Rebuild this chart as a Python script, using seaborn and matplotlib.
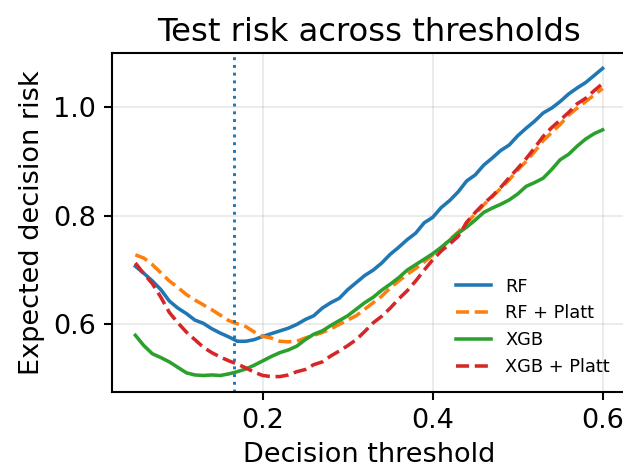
import numpy as np
import pandas as pd
import matplotlib
matplotlib.use("Agg")
import matplotlib.pyplot as plt
import seaborn as sns

# thresholds 0.05 .. 0.60, step 0.01
thresholds = [round(0.05 + 0.01 * i, 2) for i in range(56)]

rf = [0.707, 0.694, 0.680, 0.664, 0.643, 0.630, 0.620, 0.608, 0.602, 0.592,
      0.584, 0.577, 0.569, 0.569, 0.572, 0.578, 0.583, 0.588, 0.593, 0.600,
      0.609, 0.616, 0.630, 0.640, 0.648, 0.664, 0.677, 0.690, 0.700, 0.713,
      0.729, 0.742, 0.756, 0.768, 0.787, 0.797, 0.815, 0.828, 0.844, 0.864,
      0.875, 0.893, 0.906, 0.920, 0.930, 0.947, 0.961, 0.974, 0.989, 0.998,
      1.010, 1.024, 1.035, 1.045, 1.058, 1.071]

rf_platt = [0.728, 0.722, 0.710, 0.695, 0.680, 0.668, 0.655, 0.645, 0.636, 0.627,
            0.617, 0.607, 0.601, 0.596, 0.586, 0.578, 0.575, 0.569, 0.568, 0.569,
            0.575, 0.580, 0.585, 0.592, 0.600, 0.608, 0.616, 0.628, 0.640, 0.652,
            0.667, 0.680, 0.692, 0.703, 0.715, 0.728, 0.740, 0.756, 0.770, 0.787,
            0.803, 0.820, 0.835, 0.850, 0.866, 0.884, 0.900, 0.918, 0.938, 0.953,
            0.968, 0.985, 0.998, 1.010, 1.022, 1.034]

xgb = [0.580, 0.561, 0.546, 0.539, 0.531, 0.521, 0.511, 0.507, 0.506, 0.507,
       0.506, 0.509, 0.513, 0.518, 0.525, 0.533, 0.541, 0.548, 0.553, 0.560,
       0.572, 0.582, 0.588, 0.598, 0.607, 0.616, 0.628, 0.640, 0.650, 0.663,
       0.674, 0.686, 0.700, 0.710, 0.720, 0.730, 0.742, 0.755, 0.768, 0.779,
       0.792, 0.806, 0.814, 0.821, 0.829, 0.840, 0.854, 0.861, 0.869, 0.885,
       0.903, 0.913, 0.928, 0.941, 0.951, 0.958]

xgb_platt = [0.713, 0.693, 0.675, 0.650, 0.622, 0.603, 0.586, 0.572, 0.558, 0.548,
             0.540, 0.533, 0.527, 0.520, 0.512, 0.506, 0.504, 0.504, 0.507, 0.513,
             0.517, 0.526, 0.531, 0.542, 0.551, 0.561, 0.572, 0.587, 0.603, 0.615,
             0.630, 0.647, 0.662, 0.680, 0.700, 0.719, 0.735, 0.748, 0.762, 0.788,
             0.806, 0.822, 0.836, 0.852, 0.870, 0.887, 0.905, 0.925, 0.946, 0.962,
             0.976, 0.990, 1.006, 1.016, 1.030, 1.043]

best_threshold = 1 / 6

series = {"RF": rf, "RF + Platt": rf_platt, "XGB": xgb, "XGB + Platt": xgb_platt}
styles = {"RF": ("tab:blue", "-"), "RF + Platt": ("tab:orange", "--"),
          "XGB": ("tab:green", "-"), "XGB + Platt": ("tab:red", "--")}

plt.rcParams.update({
    "font.size": 13,
    "axes.linewidth": 1.0,
    "xtick.major.size": 4,
    "ytick.major.size": 4,
    "xtick.major.width": 1.0,
    "ytick.major.width": 1.0,
})

fig = plt.figure(figsize=(623 / 150, 471 / 150), dpi=150)
ax = fig.add_axes([112 / 623, 1 - 392 / 471, 514 / 623, 339 / 471])

for name, vals in series.items():
    df = pd.DataFrame({"threshold": thresholds, "risk": vals})
    color, ls = styles[name]
    sns.lineplot(data=df, x="threshold", y="risk", ax=ax, color=color,
                 linestyle=ls, linewidth=1.7, label=name)

ax.axvline(best_threshold, color="tab:blue", linestyle=":", linewidth=1.4)

ax.set_yticks([0.6, 0.8, 1.0])
ax.set_xticks([0.2, 0.4, 0.6])
ax.grid(True, alpha=0.3)
ax.set_title("Test risk across thresholds", fontsize=15.5)
ax.set_xlabel("Decision threshold")
ax.set_ylabel("Expected decision risk")
ax.legend(loc="lower right", frameon=False, fontsize=8.5)

fig.savefig("out.png", dpi=150)
